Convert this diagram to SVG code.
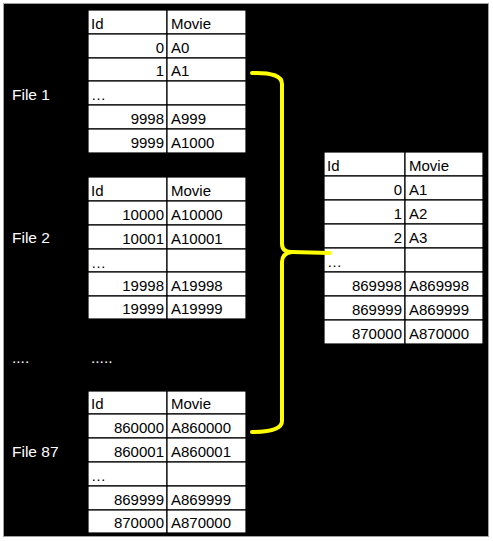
<svg xmlns="http://www.w3.org/2000/svg" width="493" height="541" viewBox="0 0 493 541">
<style>
.bg{fill:#000;stroke:#a0a0a0;stroke-width:1}
.c{fill:#fff;stroke:#000;stroke-width:1.2}
text{font-family:"Liberation Sans",Arial,sans-serif;font-size:15px;fill:#000}
.r{text-anchor:end}
.lbl{fill:#fff;font-size:15.5px}
.brace{fill:none;stroke:#ffff00;stroke-width:4;stroke-linecap:round;stroke-linejoin:round}
</style>
<rect x="0" y="0" width="493" height="541" fill="#fff"/>
<rect class="bg" x="3.5" y="3.5" width="485" height="533"/>

<g id="labels">
<text class="lbl" x="12" y="100">File 1</text>
<text class="lbl" x="12" y="243">File 2</text>
<text class="lbl" x="12" y="363">....</text>
<text class="lbl" x="91" y="363">.....</text>
<text class="lbl" x="12" y="457">File 87</text>
</g>

<g id="table1">
<rect class="c" x="88" y="10" width="79" height="24"/><rect class="c" x="167" y="10" width="79" height="24"/>
<rect class="c" x="88" y="34" width="79" height="24"/><rect class="c" x="167" y="34" width="79" height="24"/>
<rect class="c" x="88" y="58" width="79" height="23"/><rect class="c" x="167" y="58" width="79" height="23"/>
<rect class="c" x="88" y="81" width="79" height="24"/><rect class="c" x="167" y="81" width="79" height="24"/>
<rect class="c" x="88" y="105" width="79" height="24"/><rect class="c" x="167" y="105" width="79" height="24"/>
<rect class="c" x="88" y="129" width="79" height="24"/><rect class="c" x="167" y="129" width="79" height="24"/>
<text x="91" y="28.5">Id</text><text x="171" y="28.5">Movie</text>
<text class="r" x="164" y="52.5">0</text><text x="171" y="52.5">A0</text>
<text class="r" x="164" y="76">1</text><text x="171" y="76">A1</text>
<text x="91" y="100">…</text>
<text class="r" x="164" y="123.5">9998</text><text x="171" y="123.5">A999</text>
<text class="r" x="164" y="147.5">9999</text><text x="171" y="147.5">A1000</text>
</g>

<g id="table2">
<rect class="c" x="88" y="177" width="79" height="24"/><rect class="c" x="167" y="177" width="79" height="24"/>
<rect class="c" x="88" y="201" width="79" height="24"/><rect class="c" x="167" y="201" width="79" height="24"/>
<rect class="c" x="88" y="225" width="79" height="24"/><rect class="c" x="167" y="225" width="79" height="24"/>
<rect class="c" x="88" y="249" width="79" height="23"/><rect class="c" x="167" y="249" width="79" height="23"/>
<rect class="c" x="88" y="272" width="79" height="24"/><rect class="c" x="167" y="272" width="79" height="24"/>
<rect class="c" x="88" y="296" width="79" height="23"/><rect class="c" x="167" y="296" width="79" height="23"/>
<text x="91" y="195.5">Id</text><text x="171" y="195.5">Movie</text>
<text class="r" x="164" y="219.5">10000</text><text x="171" y="219.5">A10000</text>
<text class="r" x="164" y="243.5">10001</text><text x="171" y="243.5">A10001</text>
<text x="91" y="268">…</text>
<text class="r" x="164" y="290.5">19998</text><text x="171" y="290.5">A19998</text>
<text class="r" x="164" y="314">19999</text><text x="171" y="314">A19999</text>
</g>

<g id="table87">
<rect class="c" x="88" y="391" width="79" height="23"/><rect class="c" x="167" y="391" width="79" height="23"/>
<rect class="c" x="88" y="414" width="79" height="24"/><rect class="c" x="167" y="414" width="79" height="24"/>
<rect class="c" x="88" y="438" width="79" height="24"/><rect class="c" x="167" y="438" width="79" height="24"/>
<rect class="c" x="88" y="462" width="79" height="24"/><rect class="c" x="167" y="462" width="79" height="24"/>
<rect class="c" x="88" y="486" width="79" height="24"/><rect class="c" x="167" y="486" width="79" height="24"/>
<rect class="c" x="88" y="510" width="79" height="23"/><rect class="c" x="167" y="510" width="79" height="23"/>
<text x="91" y="409">Id</text><text x="171" y="409">Movie</text>
<text class="r" x="164" y="432.5">860000</text><text x="171" y="432.5">A860000</text>
<text class="r" x="164" y="456.5">860001</text><text x="171" y="456.5">A860001</text>
<text x="91" y="481">…</text>
<text class="r" x="164" y="504.5">869999</text><text x="171" y="504.5">A869999</text>
<text class="r" x="164" y="528">870000</text><text x="171" y="528">A870000</text>
</g>

<g id="merged">
<rect class="c" x="324" y="152" width="81" height="24"/><rect class="c" x="405" y="152" width="78" height="24"/>
<rect class="c" x="324" y="176" width="81" height="24"/><rect class="c" x="405" y="176" width="78" height="24"/>
<rect class="c" x="324" y="200" width="81" height="24"/><rect class="c" x="405" y="200" width="78" height="24"/>
<rect class="c" x="324" y="224" width="81" height="24"/><rect class="c" x="405" y="224" width="78" height="24"/>
<rect class="c" x="324" y="248" width="81" height="24"/><rect class="c" x="405" y="248" width="78" height="24"/>
<rect class="c" x="324" y="272" width="81" height="24"/><rect class="c" x="405" y="272" width="78" height="24"/>
<rect class="c" x="324" y="296" width="81" height="24"/><rect class="c" x="405" y="296" width="78" height="24"/>
<rect class="c" x="324" y="320" width="81" height="24"/><rect class="c" x="405" y="320" width="78" height="24"/>
<text x="327" y="170.5">Id</text><text x="409" y="170.5">Movie</text>
<text class="r" x="402" y="194.5">0</text><text x="409" y="194.5">A1</text>
<text class="r" x="402" y="218.5">1</text><text x="409" y="218.5">A2</text>
<text class="r" x="402" y="242.5">2</text><text x="409" y="242.5">A3</text>
<text x="327" y="267">…</text>
<text class="r" x="402" y="290.5">869998</text><text x="409" y="290.5">A869998</text>
<text class="r" x="402" y="314.5">869999</text><text x="409" y="314.5">A869999</text>
<text class="r" x="402" y="338.5">870000</text><text x="409" y="338.5">A870000</text>
</g>

<g id="connectors">
<path class="brace" d="M252 73 Q282 72 282 84 L282 244 Q282 252 292 252 L330 253"/>
<path class="brace" d="M292 252 Q282 253 282 262 L282 421 Q282 432 252 432"/>
</g>
</svg>
